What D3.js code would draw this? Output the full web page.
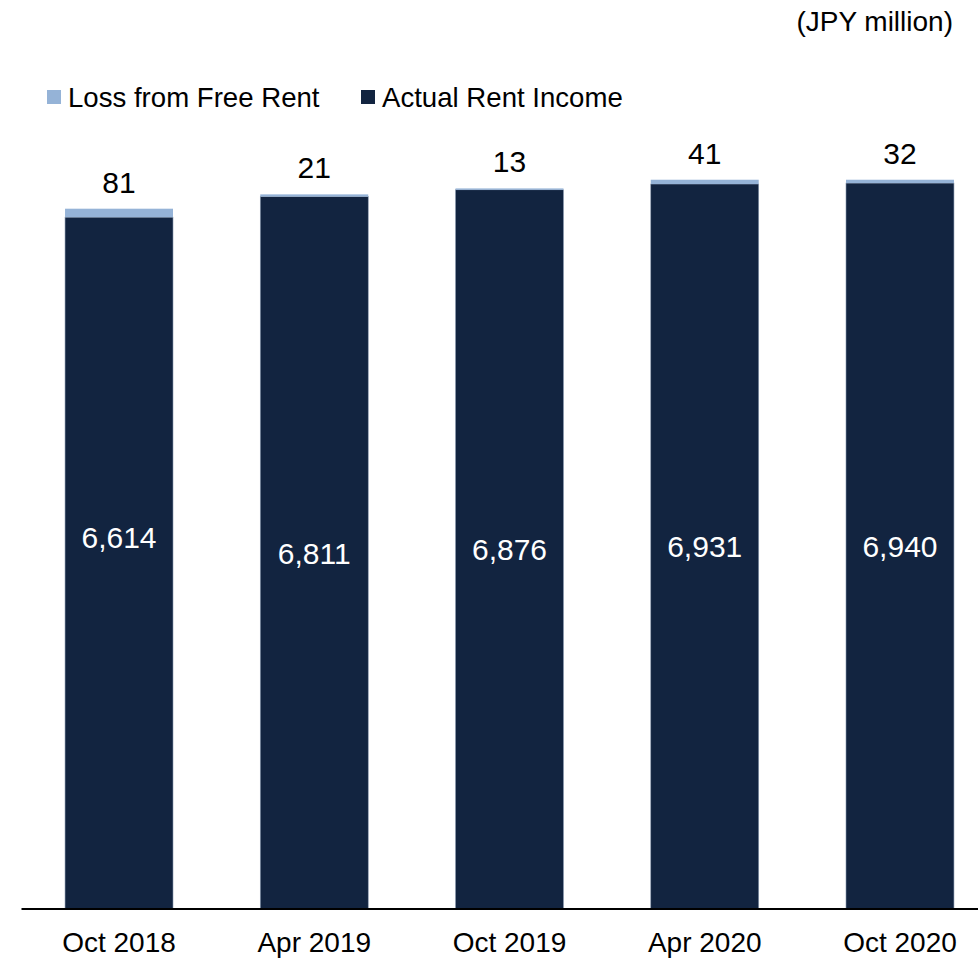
<!DOCTYPE html>
<html>
  <head>
    <meta charset="utf-8">
    <title>rent income chart</title>
    <style>
      body { margin: 0; background: #fff; }
      text { font-family: Arial, "Liberation Sans", sans-serif; }
    </style>
  </head>
  <body>
    <div class="chart"></div>
    <script src="https://d3js.org/d3.v7.min.js"></script>
    <script>
        var periods = ["Oct 2018", "Apr 2019", "Oct 2019", "Apr 2020", "Oct 2020"];
        var actualRent = [6614, 6811, 6876, 6931, 6940];
        var freeRentLoss = [81, 21, 13, 41, 32];
        var seriesNames = ["Loss from Free Rent", "Actual Rent Income"];

        // first inside label sits higher than the others in the original
        var insideNudge = [-26, 0, 0, 0, 0];

        var w = 978, h = 960;
        var darkColor = "#122440", lightColor = "#95b3d7";

        var svg = d3.select(".chart")
        	.append("svg")
        	.attr("width", w)
        	.attr("height", h);

        var x = d3.scaleBand()
        	.domain(periods)
        	.range([21.4, 997.6])
        	.paddingInner(0.447)
        	.paddingOuter(0.2235);

        var y = d3.scaleLinear()
        	.domain([0, 7000])
        	.range([909, 909 - 0.1046 * 7000]);

        var rows = periods.map(function(p, i) {
        	return { period: p, actual: actualRent[i], loss: freeRentLoss[i], i: i };
        });

        var g = svg.selectAll(".bar")
        	.data(rows)
        	.enter()
        	.append("g")
        	.attr("class", "bar");

        // actual rent (bottom)
        g.append("rect")
        	.attr("x", function(d) { return x(d.period); })
        	.attr("width", x.bandwidth())
        	.attr("y", function(d) { return y(d.actual); })
        	.attr("height", function(d) { return y(0) - y(d.actual); })
        	.style("fill", darkColor)
        	.style("stroke", "#8a9ab0")
        	.style("stroke-width", 0.6);

        // free rent loss (top)
        g.append("rect")
        	.attr("x", function(d) { return x(d.period); })
        	.attr("width", x.bandwidth())
        	.attr("y", function(d) { return y(d.actual + d.loss); })
        	.attr("height", function(d) { return y(d.actual) - y(d.actual + d.loss); })
        	.style("fill", lightColor);

        // value inside dark bar
        g.append("text")
        	.attr("x", function(d) { return x(d.period) + x.bandwidth() / 2; })
        	.attr("y", function(d) { return (y(0) + y(d.actual)) / 2 + insideNudge[d.i]; })
        	.attr("dy", "0.36em")
        	.style("text-anchor", "middle")
        	.style("font-size", "30px")
        	.style("fill", "#fff")
        	.text(function(d) { return d3.format(",")(d.actual); });

        // loss value above the stack
        g.append("text")
        	.attr("x", function(d) { return x(d.period) + x.bandwidth() / 2; })
        	.attr("y", function(d) { return y(d.actual + d.loss) - 16; })
        	.style("text-anchor", "middle")
        	.style("font-size", "30px")
        	.style("fill", "#000")
        	.text(function(d) { return d.loss; });

        // baseline
        svg.append("line")
        	.attr("x1", 21.5).attr("x2", w)
        	.attr("y1", y(0)).attr("y2", y(0))
        	.style("stroke", "#000")
        	.style("stroke-width", 2);

        // category labels
        svg.selectAll(".xlab")
        	.data(periods)
        	.enter()
        	.append("text")
        	.attr("class", "xlab")
        	.attr("x", function(d) { return x(d) + x.bandwidth() / 2; })
        	.attr("y", 952)
        	.style("text-anchor", "middle")
        	.style("font-size", "28px")
        	.text(function(d) { return d; });

        // unit
        svg.append("text")
        	.attr("x", 953)
        	.attr("y", 31)
        	.style("text-anchor", "end")
        	.style("font-size", "28px")
        	.text("(JPY million)");

        // legend
        var legendX = [47, 361];
        var legend = svg.selectAll(".legend")
        	.data(seriesNames)
        	.enter()
        	.append("g")
        	.attr("class", "legend")
        	.attr("transform", function(d, i) { return "translate(" + legendX[i] + ",0)"; });

        legend.append("rect")
        	.attr("x", 0).attr("y", 90)
        	.attr("width", 14).attr("height", 14)
        	.style("fill", function(d, i) { return i === 0 ? lightColor : darkColor; });

        legend.append("text")
        	.attr("x", 21)
        	.attr("y", 107)
        	.style("font-size", "27.6px")
        	.text(function(d) { return d; });
    </script>
  </body>
</html>
